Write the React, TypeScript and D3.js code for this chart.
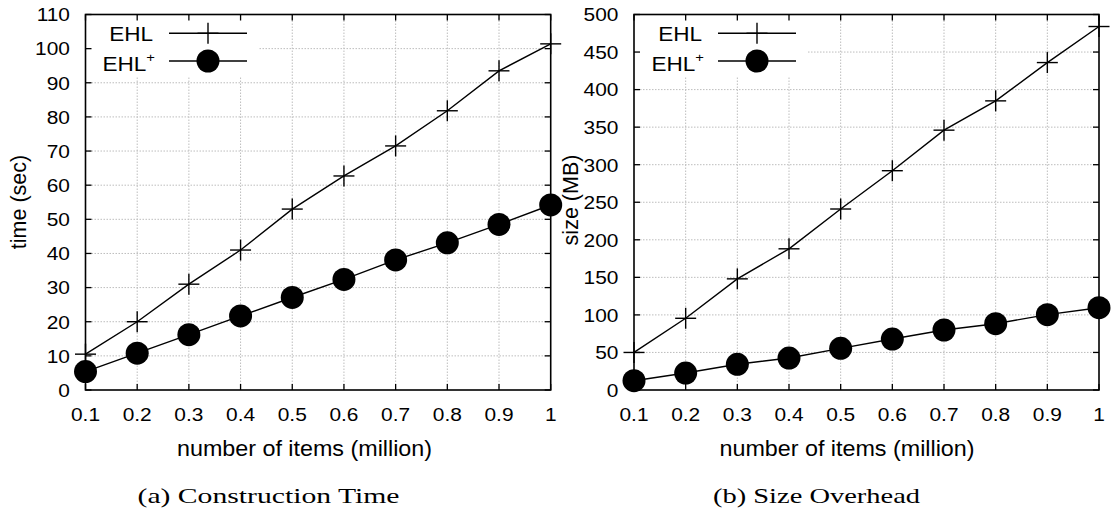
import React from "react";
import * as d3 from "d3";

const items = [0.1, 0.2, 0.3, 0.4, 0.5, 0.6, 0.7, 0.8, 0.9, 1.0];
const xTickLabels = ["0.1", "0.2", "0.3", "0.4", "0.5", "0.6", "0.7", "0.8", "0.9", "1"];

const timeEHL = [10.5, 20.0, 31.0, 41.0, 53.0, 62.7, 71.5, 81.8, 93.5, 101.4];
const timeEHLPlus = [5.4, 10.8, 16.2, 21.7, 27.1, 32.4, 38.1, 43.1, 48.5, 54.2];
const timeTicks = [0, 10, 20, 30, 40, 50, 60, 70, 80, 90, 100, 110];

const sizeEHL = [50, 95.5, 148, 188, 241, 292, 346, 385, 436, 484];
const sizeEHLPlus = [12.4, 22.6, 34.2, 42.6, 55.5, 67.9, 79.9, 88.3, 100.3, 109.6];
const sizeTicks = [0, 50, 100, 150, 200, 250, 300, 350, 400, 450, 500];

const SANS = "'Liberation Sans', Arial, Helvetica, sans-serif";
const SERIF = "'Liberation Serif', 'Times New Roman', serif";
const SX = 1.1;

type TProps = {
  x: number;
  y: number;
  size: number;
  anchor?: "start" | "middle" | "end";
  children?: React.ReactNode;
};
const T = ({ x, y, size, anchor = "middle", children }: TProps) => (
  <text
    transform={`translate(${x},${y}) scale(${SX},1)`}
    textAnchor={anchor}
    fontFamily={SANS}
    fontSize={size}
    fill="#000"
  >
    {children}
  </text>
);

const Plus = ({ x, y }: { x: number; y: number }) => (
  <g stroke="#000" strokeWidth={1.4}>
    <line x1={x - 10.5} x2={x + 10.5} y1={y} y2={y} />
    <line x1={x} x2={x} y1={y - 10.5} y2={y + 10.5} />
  </g>
);
const Dot = ({ x, y }: { x: number; y: number }) => <circle cx={x} cy={y} r={11.5} fill="#000" />;

type PanelProps = {
  left: number;
  right: number;
  yMax: number;
  yTicks: number[];
  ehl: number[];
  ehlPlus: number[];
  yLabel: string;
  yLabelX: number;
  yLabelY: number;
  xLabelX: number;
  caption: string;
  captionX: number;
  captionW: number;
  legendTextX: number;
  legendBoxRight: number;
};

const Panel = (p: PanelProps) => {
  const top = 14.5;
  const bottom = 390;
  const x = d3.scaleLinear().domain([0.1, 1]).range([p.left, p.right]);
  const y = d3.scaleLinear().domain([0, p.yMax]).range([bottom, top]);
  const line = d3
    .line<number>()
    .x((_, i) => x(items[i]))
    .y((d) => y(d));
  const tick = 6;
  const legLine0 = p.legendTextX + 14;
  const legLine1 = legLine0 + 78;
  const legMid = (legLine0 + legLine1) / 2;
  const row1 = 33.3;
  const row2 = 61;
  return (
    <g>
      <g stroke="#bdbdbd" strokeWidth={1} strokeDasharray="1.5,1.5">
        {items.slice(1, -1).map((v) => (
          <line key={"gx" + v} x1={x(v)} x2={x(v)} y1={top} y2={bottom} />
        ))}
        {p.yTicks.slice(1, -1).map((v) => (
          <line key={"gy" + v} x1={p.left} x2={p.right} y1={y(v)} y2={y(v)} />
        ))}
      </g>
      <rect x={p.left + 1} y={top + 1} width={p.legendBoxRight - p.left} height={75 - top} fill="#fff" />
      <g stroke="#000" strokeWidth={1.3}>
        {items.map((v) => (
          <g key={"tx" + v}>
            <line x1={x(v)} x2={x(v)} y1={bottom} y2={bottom - tick} />
            <line x1={x(v)} x2={x(v)} y1={top} y2={top + tick} />
          </g>
        ))}
        {p.yTicks.map((v) => (
          <g key={"ty" + v}>
            <line x1={p.left} x2={p.left + tick} y1={y(v)} y2={y(v)} />
            <line x1={p.right} x2={p.right - tick} y1={y(v)} y2={y(v)} />
          </g>
        ))}
      </g>
      <rect x={p.left} y={top} width={p.right - p.left} height={bottom - top} fill="none" stroke="#000" strokeWidth={1.6} />
      {items.map((v, i) => (
        <T key={"lx" + v} x={x(v)} y={420.7} size={19}>
          {xTickLabels[i]}
        </T>
      ))}
      {p.yTicks.map((v) => (
        <T key={"ly" + v} x={p.left - 15.5} y={y(v) + 6.8} size={19} anchor="end">
          {String(v)}
        </T>
      ))}
      <path d={line(p.ehl) || ""} fill="none" stroke="#000" strokeWidth={1.4} />
      <path d={line(p.ehlPlus) || ""} fill="none" stroke="#000" strokeWidth={1.4} />
      {p.ehl.map((v, i) => (
        <Plus key={"p" + i} x={x(items[i])} y={y(v)} />
      ))}
      {p.ehlPlus.map((v, i) => (
        <Dot key={"d" + i} x={x(items[i])} y={y(v)} />
      ))}
      <T x={p.legendTextX - 2} y={row1 + 7.5} size={20.5} anchor="end">
        EHL
      </T>
      <line x1={legLine0} x2={legLine1} y1={row1} y2={row1} stroke="#000" strokeWidth={1.4} />
      <Plus x={legMid} y={row1} />
      <T x={p.legendTextX} y={row2 + 10} size={20.5} anchor="end">
        EHL
        <tspan fontSize={13.5} dy={-9}>
          +
        </tspan>
      </T>
      <line x1={legLine0} x2={legLine1} y1={row2} y2={row2} stroke="#000" strokeWidth={1.4} />
      <Dot x={legMid} y={row2} />
      <text
        transform={`translate(${p.yLabelX},${p.yLabelY}) rotate(-90)`}
        textAnchor="middle"
        fontFamily={SANS}
        fontSize={21.5}
        fill="#000"
      >
        {p.yLabel}
      </text>
      <T x={p.xLabelX} y={456} size={21.2}>
        number of items (million)
      </T>
      <text
        x={p.captionX}
        y={502.5}
        textAnchor="middle"
        fontFamily={SERIF}
        fontSize={21}
        textLength={p.captionW}
        lengthAdjust="spacingAndGlyphs"
        fill="#000"
      >
        {p.caption}
      </text>
    </g>
  );
};

export default function App() {
  return (
    <svg
      width={1113}
      height={514}
      style={{ position: "absolute", left: 0, top: 0, background: "#fff" }}
    >
      <rect width={1113} height={514} fill="#fff" />
      <Panel
        left={85.5}
        right={550.7}
        yMax={110}
        yTicks={timeTicks}
        ehl={timeEHL}
        ehlPlus={timeEHLPlus}
        yLabel="time (sec)"
        yLabelX={26}
        yLabelY={202}
        xLabelX={304.5}
        caption="(a) Construction Time"
        captionX={268.5}
        captionW={262}
        legendTextX={155}
        legendBoxRight={258}
      />
      <Panel
        left={634}
        right={1099}
        yMax={500}
        yTicks={sizeTicks}
        ehl={sizeEHL}
        ehlPlus={sizeEHLPlus}
        yLabel="size (MB)"
        yLabelX={577.5}
        yLabelY={200}
        xLabelX={847}
        caption="(b) Size Overhead"
        captionX={816.5}
        captionW={207}
        legendTextX={704}
        legendBoxRight={806}
      />
    </svg>
  );
}
